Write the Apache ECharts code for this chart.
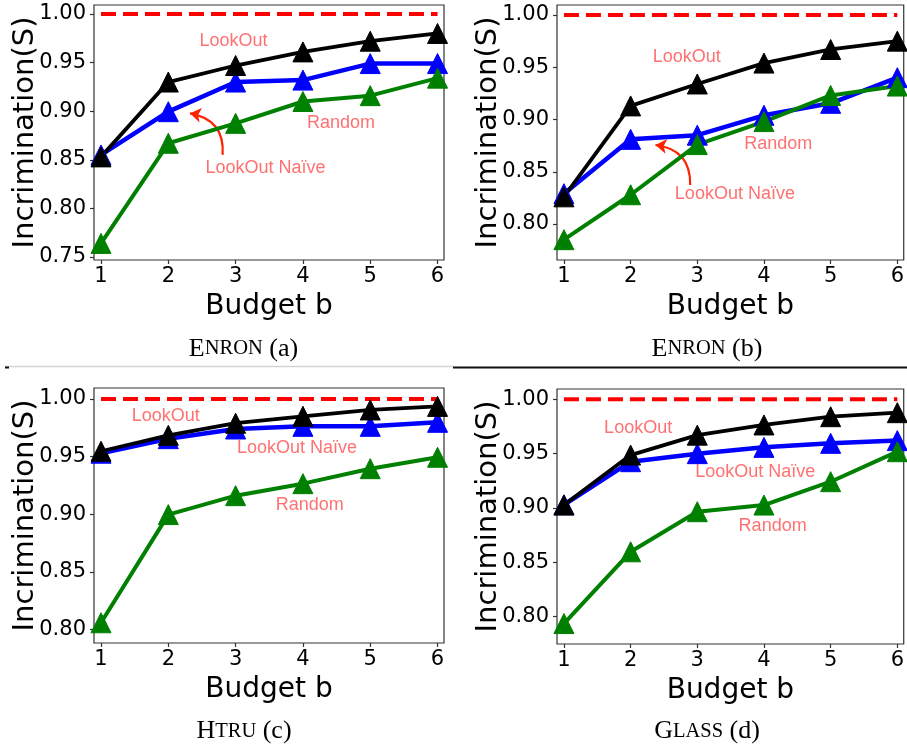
<!DOCTYPE html>
<html>
<head>
<meta charset="utf-8">
<script src="https://cdn.jsdelivr.net/npm/echarts@6/dist/echarts.min.js"></script>
<style>
html,body{margin:0;padding:0;background:#fff;}
#chart{width:907px;height:747px;}
</style>
</head>
<body>
<div id="chart"></div>
<script>
// ---- Data ----
const budgets = [1, 2, 3, 4, 5, 6];
const perfectScore = 1.0;

const lookoutA = [0.853, 0.930, 0.947, 0.961, 0.972, 0.980];
const naiveA   = [0.855, 0.8995, 0.930, 0.932, 0.949, 0.949];
const randomA  = [0.764, 0.867, 0.8875, 0.910, 0.916, 0.934];

const lookoutB = [0.826, 0.913, 0.934, 0.954, 0.967, 0.975];
const naiveB   = [0.829, 0.881, 0.885, 0.904, 0.9155, 0.940];
const randomB  = [0.785, 0.828, 0.876, 0.898, 0.923, 0.932];

const lookoutC = [0.9547, 0.9685, 0.979, 0.985, 0.9905, 0.9936];
const naiveC   = [0.953, 0.9656, 0.974, 0.9763, 0.9763, 0.9798];
const randomC  = [0.806, 0.8998, 0.9162, 0.9266, 0.9396, 0.9495];

const lookoutD = [0.9027, 0.9487, 0.967, 0.9764, 0.984, 0.9877];
const naiveD   = [0.903, 0.9426, 0.950, 0.9558, 0.9595, 0.962];
const randomD  = [0.7937, 0.8597, 0.8966, 0.9027, 0.9242, 0.9518];

const yTicksA = [0.75, 0.80, 0.85, 0.90, 0.95, 1.00];
const yTicksB = [0.80, 0.85, 0.90, 0.95, 1.00];
const yTicksC = [0.80, 0.85, 0.90, 0.95, 1.00];
const yTicksD = [0.80, 0.85, 0.90, 0.95, 1.00];

const captionNames = ['ENRON', 'ENRON', 'HTRU', 'GLASS'];
const captionTags  = ['(a)', '(b)', '(c)', '(d)'];

// annotation positions in data coordinates [x, y]
const lookoutLabelPos = [[2.968, 0.9725], [2.842, 0.9595], [1.962, 0.9849], [2.113, 0.9733]];
const naiveLabelPos   = [[3.443, 0.8413], [3.564, 0.8287], [3.911, 0.9572], [3.869, 0.9328]];
const randomLabelPos  = [[4.565, 0.8876], [4.214, 0.8766], [4.100, 0.9078], [4.130, 0.8836]];
const arrowA = [[2.807, 0.855], [2.322, 0.8978]];
const arrowB = [[2.894, 0.8373], [2.373, 0.8756]];

// ---- Layout ----
const panels = [
  {left: 94,  top: 5,   yMin: 0.7469, yMax: 1.00926, ticks: yTicksA, lo: lookoutA, nv: naiveA, rd: randomA},
  {left: 557, top: 5,   yMin: 0.76555, yMax: 1.00957, ticks: yTicksB, lo: lookoutB, nv: naiveB, rd: randomB},
  {left: 94,  top: 388, yMin: 0.78847, yMax: 1.00954, ticks: yTicksC, lo: lookoutC, nv: naiveC, rd: randomC},
  {left: 557, top: 389, yMin: 0.77489, yMax: 1.00948, ticks: yTicksD, lo: lookoutD, nv: naiveD, rd: randomD}
];
const gridW = 350, gridH = 255;
const axisFont = 'DejaVu Sans';
const annColor = '#ff4d4d';

const grids = [], xAxes = [], yAxes = [], series = [];
panels.forEach((p, i) => {
  grids.push({left: p.left, top: p.top, width: gridW, height: gridH,
    show: true, borderColor: '#333', borderWidth: 1.2, backgroundColor: 'transparent'});
  xAxes.push({type: 'value', gridIndex: i, min: 0.896, max: 6.096,
    name: 'Budget b', nameLocation: 'middle', nameGap: 33, nameMoveOverlap: false,
    nameTextStyle: {fontFamily: axisFont, fontSize: 28, color: '#000'},
    axisLine: {show: false}, splitLine: {show: false},
    axisTick: {show: true, length: 4, customValues: budgets, lineStyle: {color: '#333', width: 1.2}},
    axisLabel: {customValues: budgets, margin: 6, fontFamily: axisFont, fontSize: 21, color: '#000'}});
  yAxes.push({type: 'value', gridIndex: i, min: p.yMin, max: p.yMax,
    name: 'Incrimination(S)', nameLocation: 'middle', nameGap: 54, nameMoveOverlap: false,
    nameTextStyle: {fontFamily: axisFont, fontSize: 29, color: '#000'},
    axisLine: {show: false}, splitLine: {show: false},
    axisTick: {show: true, length: 4, customValues: p.ticks, lineStyle: {color: '#333', width: 1.2}},
    axisLabel: {customValues: p.ticks, margin: 8, fontFamily: axisFont, fontSize: 21, color: '#000',
      formatter: v => v.toFixed(2)}});

  series.push({type: 'line', xAxisIndex: i, yAxisIndex: i, symbol: 'none', silent: true,
    data: [[budgets[0], perfectScore], [budgets[budgets.length - 1], perfectScore]],
    lineStyle: {color: '#ff0000', width: 4, type: [15, 7]}});

  const mk = (vals, color, w) => ({type: 'line', xAxisIndex: i, yAxisIndex: i, silent: true,
    data: budgets.map((b, k) => [b, vals[k]]),
    symbol: 'triangle', symbolSize: 20, showAllSymbol: true,
    itemStyle: {color: color, borderColor: color, borderWidth: 1},
    lineStyle: {color: color, width: w}});
  series.push(mk(p.nv, '#0000ff', 4.5));
  series.push(mk(p.rd, '#008000', 4));
  series.push(mk(p.lo, '#000000', 3.8));

  const lab = (pos, text) => ({value: pos, label: {formatter: text}});
  series.push({type: 'scatter', xAxisIndex: i, yAxisIndex: i, silent: true, symbolSize: 1,
    itemStyle: {color: 'rgba(0,0,0,0)'},
    label: {show: true, position: 'inside', color: annColor, fontSize: 18, fontFamily: 'Liberation Sans'},
    data: [lab(lookoutLabelPos[i], 'LookOut'), lab(naiveLabelPos[i], 'LookOut Naïve'), lab(randomLabelPos[i], 'Random')]});
});

[arrowA, arrowB].forEach((arr, i) => {
  series.push({type: 'lines', coordinateSystem: 'cartesian2d', xAxisIndex: i, yAxisIndex: i, silent: true,
    symbol: ['none', 'arrow'], symbolSize: 11,
    lineStyle: {color: '#ff2200', width: 2.2, curveness: -0.45, opacity: 1},
    data: [{coords: arr}]});
});

const captionPos = [[243.5, 349], [707, 349], [244, 731.5], [707, 731.5]];
const graphics = captionNames.map((n, i) => ({
  type: 'text', x: captionPos[i][0], y: captionPos[i][1],
  style: {
    text: '{b|' + n[0] + '}{s|' + n.slice(1) + '}{b| ' + captionTags[i] + '}',
    align: 'center', verticalAlign: 'middle',
    rich: {
      b: {fontFamily: 'Liberation Serif', fontSize: 26, fill: '#000'},
      s: {fontFamily: 'Liberation Serif', fontSize: 20.5, fill: '#000'}
    }
  }
}));
graphics.push({type: 'line', shape: {x1: 5, y1: 366.5, x2: 453, y2: 366.5}, style: {stroke: '#d4d4d4', lineWidth: 1.5}});
graphics.push({type: 'line', shape: {x1: 453, y1: 367.5, x2: 907, y2: 367.5}, style: {stroke: '#111', lineWidth: 2}});
graphics.push({type: 'line', shape: {x1: 5, y1: 367.5, x2: 9, y2: 367.5}, style: {stroke: '#111', lineWidth: 2}});

const chart = echarts.init(document.getElementById('chart'), null, {renderer: 'canvas'});
chart.setOption({
  animation: false,
  backgroundColor: '#fff',
  grid: grids, xAxis: xAxes, yAxis: yAxes, series: series, graphic: graphics
});
</script>
</body>
</html>
